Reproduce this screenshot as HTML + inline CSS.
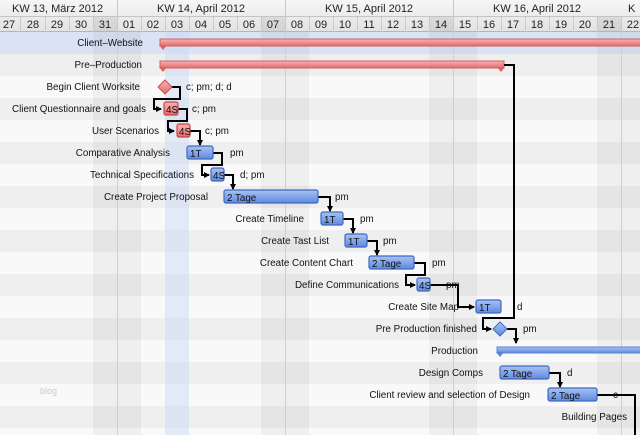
<!DOCTYPE html>
<html><head><meta charset="utf-8"><style>
html,body{margin:0;padding:0;background:#fff;}
svg{display:block;font-family:"Liberation Sans",sans-serif;}
</style></head><body>
<svg width="640" height="435" viewBox="0 0 640 435" xmlns="http://www.w3.org/2000/svg">
<defs>
<linearGradient id="bl" x1="0" y1="0" x2="0" y2="1"><stop offset="0" stop-color="#a9c2f3"/><stop offset="1" stop-color="#5f8ae0"/></linearGradient>
<linearGradient id="rd" x1="0" y1="0" x2="0" y2="1"><stop offset="0" stop-color="#f7b3b3"/><stop offset="1" stop-color="#e46a6a"/></linearGradient>
<linearGradient id="hd" x1="0" y1="0" x2="0" y2="1"><stop offset="0" stop-color="#f6f6f6"/><stop offset="1" stop-color="#e2e2e2"/></linearGradient>
<marker id="ar" markerWidth="6" markerHeight="6" refX="5" refY="3" orient="auto" markerUnits="userSpaceOnUse"><path d="M0,0 L6,3 L0,6z" fill="#000"/></marker>
</defs>
<rect x="0" y="32" width="640" height="403" fill="#f9f9f9"/>
<g fill="#efefef">
<rect x="0" y="54" width="640" height="22"/><rect x="0" y="98" width="640" height="22"/><rect x="0" y="142" width="640" height="22"/><rect x="0" y="186" width="640" height="22"/><rect x="0" y="230" width="640" height="22"/><rect x="0" y="274" width="640" height="22"/><rect x="0" y="318" width="640" height="22"/><rect x="0" y="362" width="640" height="22"/><rect x="0" y="406" width="640" height="22"/>
</g>
<rect x="0" y="32" width="640" height="22" fill="#d9e3f5"/>
<g fill="#000" opacity="0.04">
<rect x="93" y="32" width="48" height="403"/><rect x="261" y="32" width="48" height="403"/><rect x="429" y="32" width="48" height="403"/><rect x="597" y="32" width="43" height="403"/>
</g>
<rect x="165" y="32" width="24" height="403" fill="#c7d8f3" opacity="0.45"/>
<g stroke="#cfcfcf" stroke-width="1">
<line x1="117.5" y1="0" x2="117.5" y2="435"/><line x1="285.5" y1="0" x2="285.5" y2="435"/><line x1="453.5" y1="0" x2="453.5" y2="435"/><line x1="621.5" y1="0" x2="621.5" y2="435"/>
</g>
<rect x="0" y="0" width="640" height="32" fill="url(#hd)"/>
<g fill="#000" opacity="0.07"><rect x="93" y="16" width="24" height="16"/><rect x="261" y="16" width="24" height="16"/><rect x="429" y="16" width="24" height="16"/><rect x="597" y="16" width="24" height="16"/></g>
<line x1="0" y1="16.5" x2="640" y2="16.5" stroke="#c4c4c4"/>
<line x1="0" y1="31.5" x2="640" y2="31.5" stroke="#b5b5b5"/>
<g stroke="#c8c8c8">
<line x1="20.5" y1="16" x2="20.5" y2="32"/><line x1="45.5" y1="16" x2="45.5" y2="32"/><line x1="69.5" y1="16" x2="69.5" y2="32"/><line x1="93.5" y1="16" x2="93.5" y2="32"/><line x1="117.5" y1="0" x2="117.5" y2="32"/><line x1="141.5" y1="16" x2="141.5" y2="32"/><line x1="165.5" y1="16" x2="165.5" y2="32"/><line x1="189.5" y1="16" x2="189.5" y2="32"/><line x1="213.5" y1="16" x2="213.5" y2="32"/><line x1="237.5" y1="16" x2="237.5" y2="32"/><line x1="261.5" y1="16" x2="261.5" y2="32"/><line x1="285.5" y1="0" x2="285.5" y2="32"/><line x1="309.5" y1="16" x2="309.5" y2="32"/><line x1="333.5" y1="16" x2="333.5" y2="32"/><line x1="357.5" y1="16" x2="357.5" y2="32"/><line x1="381.5" y1="16" x2="381.5" y2="32"/><line x1="405.5" y1="16" x2="405.5" y2="32"/><line x1="429.5" y1="16" x2="429.5" y2="32"/><line x1="453.5" y1="0" x2="453.5" y2="32"/><line x1="477.5" y1="16" x2="477.5" y2="32"/><line x1="501.5" y1="16" x2="501.5" y2="32"/><line x1="525.5" y1="16" x2="525.5" y2="32"/><line x1="549.5" y1="16" x2="549.5" y2="32"/><line x1="573.5" y1="16" x2="573.5" y2="32"/><line x1="597.5" y1="16" x2="597.5" y2="32"/><line x1="621.5" y1="16" x2="621.5" y2="32"/>
</g>
<g font-size="11" fill="#222">
<text x="12" y="12">KW 13, März 2012</text><text x="157" y="12">KW 14, April 2012</text><text x="325" y="12">KW 15, April 2012</text><text x="493" y="12">KW 16, April 2012</text><text x="628" y="12">K</text>
</g>
<g font-size="11" fill="#222" text-anchor="middle">
<text x="9" y="28">27</text><text x="33" y="28">28</text><text x="57" y="28">29</text><text x="81" y="28">30</text><text x="105" y="28">31</text><text x="129" y="28">01</text><text x="153" y="28">02</text><text x="177" y="28">03</text><text x="201" y="28">04</text><text x="225" y="28">05</text><text x="249" y="28">06</text><text x="273" y="28">07</text><text x="297" y="28">08</text><text x="321" y="28">09</text><text x="345" y="28">10</text><text x="369" y="28">11</text><text x="393" y="28">12</text><text x="417" y="28">13</text><text x="441" y="28">14</text><text x="465" y="28">15</text><text x="489" y="28">16</text><text x="513" y="28">17</text><text x="537" y="28">18</text><text x="561" y="28">19</text><text x="585" y="28">20</text><text x="609" y="28">21</text><text x="633" y="28">22</text>
</g>
<g font-size="9.8" fill="#111" text-anchor="end">
<text x="143" y="46">Client–Website</text>
<text x="142" y="68">Pre–Production</text>
<text x="140" y="90">Begin Client Worksite</text>
<text x="146" y="112">Client Questionnaire and goals</text>
<text x="159" y="134">User Scenarios</text>
<text x="170" y="156">Comparative Analysis</text>
<text x="194" y="178">Technical Specifications</text>
<text x="208" y="200">Create Project Proposal</text>
<text x="304" y="222">Create Timeline</text>
<text x="329" y="244">Create Tast List</text>
<text x="353" y="266">Create Content Chart</text>
<text x="399" y="288">Define Communications</text>
<text x="459" y="310">Create Site Map</text>
<text x="477" y="332">Pre Production finished</text>
<text x="478" y="354">Production</text>
<text x="483" y="376">Design Comps</text>
<text x="530" y="398">Client review and selection of Design</text>
<text x="627" y="420">Building Pages</text>
</g>
<text x="40" y="394" font-size="9" fill="#c8c8c8">blog</text>
<rect x="160" y="39" width="482" height="7" fill="url(#rd)" stroke="#d26060"/>
<path d="M159,45 L167,45 L163,50z" fill="#e06060"/>
<rect x="160" y="61" width="344" height="7" fill="url(#rd)" stroke="#d26060"/>
<path d="M159,67 L167,67 L163,72z M497,67 L505,67 L501,72z" fill="#e06060"/>
<rect x="497" y="347" width="145" height="6" fill="url(#bl)" stroke="#5b83d6"/>
<path d="M496,352 L504,352 L500,357z" fill="#5b83d6"/>
<g stroke="#000" stroke-width="2" fill="none">
<path d="M171,87 H180 V99 H154 V109 H161" marker-end="url(#ar)"/>
<path d="M178,109 H187 V121 H168 V131 H174" marker-end="url(#ar)"/>
<path d="M190,131 H200 V145" marker-end="url(#ar)"/>
<path d="M213,153 H222 V165 H202 V175 H209" marker-end="url(#ar)"/>
<path d="M224,175 H233 V189" marker-end="url(#ar)"/>
<path d="M318,197 H330 V211" marker-end="url(#ar)"/>
<path d="M343,219 H353 V233" marker-end="url(#ar)"/>
<path d="M367,241 H377 V255" marker-end="url(#ar)"/>
<path d="M414,263 H425 V275 H406 V285 H415" marker-end="url(#ar)"/>
<path d="M430,285 H458 V307 H474" marker-end="url(#ar)"/>
<path d="M504,65 H514 V318 H483 V329 H491" marker-end="url(#ar)"/>
<path d="M507,329 H516 V343" marker-end="url(#ar)"/>
<path d="M549,373 H560 V387" marker-end="url(#ar)"/>
<path d="M597,395 H635 V435"/>
</g>
<path d="M165,80 L172,87 L165,94 L158,87z" fill="url(#rd)" stroke="#d05050"/>
<path d="M500,322 L507,329 L500,336 L493,329z" fill="url(#bl)" stroke="#3f69c3"/>
<g stroke-width="1.2">
<rect x="164" y="102" width="14" height="13" rx="2" fill="url(#rd)" stroke="#c74545"/>
<rect x="177" y="124" width="13" height="13" rx="2" fill="url(#rd)" stroke="#c74545"/>
<rect x="187" y="146" width="26" height="13" rx="2" fill="url(#bl)" stroke="#3f69c3"/>
<rect x="211" y="168" width="13" height="13" rx="2" fill="url(#bl)" stroke="#3f69c3"/>
<rect x="224" y="190" width="94" height="13" rx="2" fill="url(#bl)" stroke="#3f69c3"/>
<rect x="321" y="212" width="22" height="13" rx="2" fill="url(#bl)" stroke="#3f69c3"/>
<rect x="345" y="234" width="22" height="13" rx="2" fill="url(#bl)" stroke="#3f69c3"/>
<rect x="369" y="256" width="45" height="13" rx="2" fill="url(#bl)" stroke="#3f69c3"/>
<rect x="417" y="278" width="13" height="13" rx="2" fill="url(#bl)" stroke="#3f69c3"/>
<rect x="476" y="300" width="25" height="13" rx="2" fill="url(#bl)" stroke="#3f69c3"/>
<rect x="500" y="366" width="49" height="13" rx="2" fill="url(#bl)" stroke="#3f69c3"/>
<rect x="548" y="388" width="49" height="13" rx="2" fill="url(#bl)" stroke="#3f69c3"/>
</g>
<g font-size="9.8" fill="#111">
<text x="166" y="113">4S</text><text x="179" y="135">4S</text><text x="190" y="157">1T</text><text x="213" y="179">4S</text>
<text x="227" y="201">2 Tage</text><text x="324" y="223">1T</text><text x="348" y="245">1T</text><text x="372" y="267">2 Tage</text>
<text x="419" y="289">4S</text><text x="479" y="311">1T</text><text x="503" y="377">2 Tage</text><text x="551" y="399">2 Tage</text>
</g>
<g font-size="9.8" fill="#111">
<text x="186" y="90">c; pm; d; d</text>
<text x="192" y="112">c; pm</text>
<text x="205" y="134">c; pm</text>
<text x="230" y="156">pm</text>
<text x="240" y="178">d; pm</text>
<text x="335" y="200">pm</text>
<text x="360" y="222">pm</text>
<text x="383" y="244">pm</text>
<text x="432" y="266">pm</text>
<text x="446" y="288">pm</text>
<text x="517" y="310">d</text>
<text x="523" y="332">pm</text>
<text x="567" y="376">d</text>
<text x="613" y="398">c</text>
</g>
</svg>
</body></html>
